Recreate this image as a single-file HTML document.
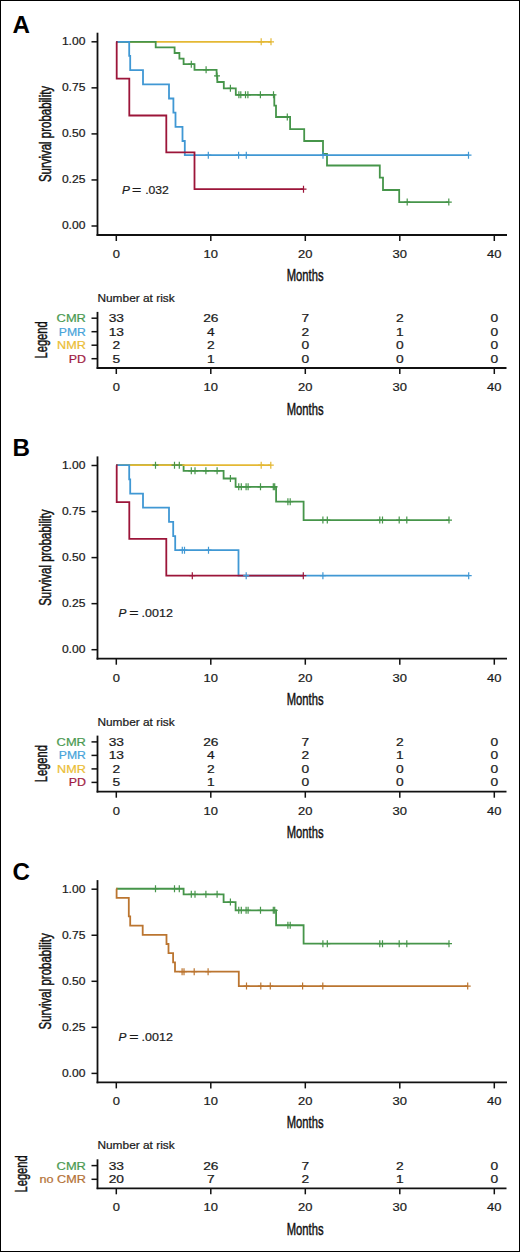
<!DOCTYPE html>
<html><head><meta charset="utf-8"><title>Kaplan-Meier survival curves</title>
<style>
html,body{margin:0;padding:0;background:#fff;}
.fig{position:relative;width:520px;height:1252px;box-sizing:border-box;border:1px solid #000;background:#fff;}
svg{position:absolute;left:-1px;top:-1px;}
text{font-family:"Liberation Sans", sans-serif;}
</style></head><body>
<div class="fig">
<svg width="520" height="1252" viewBox="0 0 520 1252" font-family='"Liberation Sans", sans-serif'>
<text transform="translate(12.50,32.50) scale(1.030,1)" font-size="23.5" text-anchor="start" font-weight="bold" font-style="normal" fill="#000">A</text>
<line x1="97.50" y1="32.70" x2="97.50" y2="235.90" stroke="#111" stroke-width="1.8"/>
<line x1="96.60" y1="235.00" x2="507.00" y2="235.00" stroke="#111" stroke-width="1.8"/>
<line x1="91.50" y1="41.80" x2="97.50" y2="41.80" stroke="#111" stroke-width="1.5"/>
<text transform="translate(85.40,45.10) scale(1.080,1)" font-size="11.2" text-anchor="end" font-weight="normal" font-style="normal" fill="#1a1a1a" stroke="#1a1a1a" stroke-width="0.22">1.00</text>
<line x1="91.50" y1="87.85" x2="97.50" y2="87.85" stroke="#111" stroke-width="1.5"/>
<text transform="translate(85.40,91.15) scale(1.080,1)" font-size="11.2" text-anchor="end" font-weight="normal" font-style="normal" fill="#1a1a1a" stroke="#1a1a1a" stroke-width="0.22">0.75</text>
<line x1="91.50" y1="133.90" x2="97.50" y2="133.90" stroke="#111" stroke-width="1.5"/>
<text transform="translate(85.40,137.20) scale(1.080,1)" font-size="11.2" text-anchor="end" font-weight="normal" font-style="normal" fill="#1a1a1a" stroke="#1a1a1a" stroke-width="0.22">0.50</text>
<line x1="91.50" y1="179.95" x2="97.50" y2="179.95" stroke="#111" stroke-width="1.5"/>
<text transform="translate(85.40,183.25) scale(1.080,1)" font-size="11.2" text-anchor="end" font-weight="normal" font-style="normal" fill="#1a1a1a" stroke="#1a1a1a" stroke-width="0.22">0.25</text>
<line x1="91.50" y1="226.00" x2="97.50" y2="226.00" stroke="#111" stroke-width="1.5"/>
<text transform="translate(85.40,229.30) scale(1.080,1)" font-size="11.2" text-anchor="end" font-weight="normal" font-style="normal" fill="#1a1a1a" stroke="#1a1a1a" stroke-width="0.22">0.00</text>
<line x1="116.30" y1="235.00" x2="116.30" y2="241.00" stroke="#111" stroke-width="1.5"/>
<text transform="translate(116.30,258.00) scale(1.150,1)" font-size="11.3" text-anchor="middle" font-weight="normal" font-style="normal" fill="#1a1a1a" stroke="#1a1a1a" stroke-width="0.22">0</text>
<line x1="210.80" y1="235.00" x2="210.80" y2="241.00" stroke="#111" stroke-width="1.5"/>
<text transform="translate(210.80,258.00) scale(1.150,1)" font-size="11.3" text-anchor="middle" font-weight="normal" font-style="normal" fill="#1a1a1a" stroke="#1a1a1a" stroke-width="0.22">10</text>
<line x1="305.30" y1="235.00" x2="305.30" y2="241.00" stroke="#111" stroke-width="1.5"/>
<text transform="translate(305.30,258.00) scale(1.150,1)" font-size="11.3" text-anchor="middle" font-weight="normal" font-style="normal" fill="#1a1a1a" stroke="#1a1a1a" stroke-width="0.22">20</text>
<line x1="399.80" y1="235.00" x2="399.80" y2="241.00" stroke="#111" stroke-width="1.5"/>
<text transform="translate(399.80,258.00) scale(1.150,1)" font-size="11.3" text-anchor="middle" font-weight="normal" font-style="normal" fill="#1a1a1a" stroke="#1a1a1a" stroke-width="0.22">30</text>
<line x1="494.30" y1="235.00" x2="494.30" y2="241.00" stroke="#111" stroke-width="1.5"/>
<text transform="translate(494.30,258.00) scale(1.150,1)" font-size="11.3" text-anchor="middle" font-weight="normal" font-style="normal" fill="#1a1a1a" stroke="#1a1a1a" stroke-width="0.22">40</text>
<text transform="translate(305.10,281.00) scale(0.672,1)" font-size="16.7" text-anchor="middle" font-weight="normal" font-style="normal" fill="#111" stroke="#111" stroke-width="0.45">Months</text>
<text transform="translate(50.80,134.00) rotate(-90) scale(0.687,1)" font-size="16.7" text-anchor="middle" font-weight="normal" font-style="normal" fill="#111" stroke="#111" stroke-width="0.45">Survival probability</text>
<path d="M116.30,41.80 L271.00,41.80" fill="none" stroke="#e4b834" stroke-width="1.8" stroke-linejoin="miter" stroke-linecap="butt"/>
<path d="M116.30,41.80 L155.70,41.80 L155.70,47.40 L174.60,47.40 L174.60,53.00 L179.40,53.00 L179.40,58.60 L183.60,58.60 L183.60,64.20 L194.50,64.20 L194.50,69.80 L216.60,69.80 L216.60,75.90 L217.30,75.90 L217.30,82.00 L223.80,82.00 L223.80,88.30 L235.80,88.30 L235.80,94.80 L274.30,94.80 L274.30,105.60 L276.00,105.60 L276.00,117.00 L290.10,117.00 L290.10,129.10 L304.20,129.10 L304.20,141.00 L323.00,141.00 L323.00,153.80 L327.00,153.80 L327.00,165.50 L379.80,165.50 L379.80,177.60 L383.00,177.60 L383.00,190.00 L399.20,190.00 L399.20,202.10 L448.80,202.10" fill="none" stroke="#46954a" stroke-width="1.8" stroke-linejoin="miter" stroke-linecap="butt"/>
<path d="M116.30,41.80 L129.20,41.80 L129.20,55.97 L130.20,55.97 L130.20,70.14 L143.00,70.14 L143.00,84.31 L169.00,84.31 L169.00,98.48 L173.40,98.48 L173.40,112.65 L175.50,112.65 L175.50,126.82 L182.50,126.82 L182.50,140.98 L184.80,140.98 L184.80,155.15 L468.50,155.15" fill="none" stroke="#4098d4" stroke-width="1.8" stroke-linejoin="miter" stroke-linecap="butt"/>
<path d="M116.30,41.80 L116.70,41.80 L116.70,78.64 L129.30,78.64 L129.30,115.48 L166.30,115.48 L166.30,152.32 L194.50,152.32 L194.50,189.16 L303.50,189.16" fill="none" stroke="#9c1539" stroke-width="1.8" stroke-linejoin="miter" stroke-linecap="butt"/>
<path d="M261.20,38.30 V45.30 M258.20,41.80 H264.20" stroke="#e4b834" stroke-width="1.2" fill="none"/>
<path d="M271.00,38.30 V45.30 M268.00,41.80 H274.00" stroke="#e4b834" stroke-width="1.2" fill="none"/>
<path d="M191.30,60.70 V67.70 M188.30,64.20 H194.30" stroke="#46954a" stroke-width="1.2" fill="none"/>
<path d="M206.10,66.30 V73.30 M203.10,69.80 H209.10" stroke="#46954a" stroke-width="1.2" fill="none"/>
<path d="M217.00,72.40 V79.40 M214.00,75.90 H220.00" stroke="#46954a" stroke-width="1.2" fill="none"/>
<path d="M230.40,84.80 V91.80 M227.40,88.30 H233.40" stroke="#46954a" stroke-width="1.2" fill="none"/>
<path d="M238.90,91.30 V98.30 M235.90,94.80 H241.90" stroke="#46954a" stroke-width="1.2" fill="none"/>
<path d="M240.80,91.30 V98.30 M237.80,94.80 H243.80" stroke="#46954a" stroke-width="1.2" fill="none"/>
<path d="M245.50,91.30 V98.30 M242.50,94.80 H248.50" stroke="#46954a" stroke-width="1.2" fill="none"/>
<path d="M247.90,91.30 V98.30 M244.90,94.80 H250.90" stroke="#46954a" stroke-width="1.2" fill="none"/>
<path d="M260.40,91.30 V98.30 M257.40,94.80 H263.40" stroke="#46954a" stroke-width="1.2" fill="none"/>
<path d="M273.50,91.30 V98.30 M270.50,94.80 H276.50" stroke="#46954a" stroke-width="1.2" fill="none"/>
<path d="M287.30,113.50 V120.50 M284.30,117.00 H290.30" stroke="#46954a" stroke-width="1.2" fill="none"/>
<path d="M407.20,198.60 V205.60 M404.20,202.10 H410.20" stroke="#46954a" stroke-width="1.2" fill="none"/>
<path d="M448.80,198.60 V205.60 M445.80,202.10 H451.80" stroke="#46954a" stroke-width="1.2" fill="none"/>
<path d="M208.30,151.65 V158.65 M205.30,155.15 H211.30" stroke="#4098d4" stroke-width="1.2" fill="none"/>
<path d="M238.60,151.65 V158.65 M235.60,155.15 H241.60" stroke="#4098d4" stroke-width="1.2" fill="none"/>
<path d="M246.30,151.65 V158.65 M243.30,155.15 H249.30" stroke="#4098d4" stroke-width="1.2" fill="none"/>
<path d="M323.00,151.65 V158.65 M320.00,155.15 H326.00" stroke="#4098d4" stroke-width="1.2" fill="none"/>
<path d="M468.50,151.65 V158.65 M465.50,155.15 H471.50" stroke="#4098d4" stroke-width="1.2" fill="none"/>
<path d="M303.50,185.66 V192.66 M300.50,189.16 H306.50" stroke="#9c1539" stroke-width="1.2" fill="none"/>
<text transform="translate(121.90,193.60)" font-size="11.8" text-anchor="start" font-weight="normal" font-style="italic" fill="#1a1a1a" stroke="#1a1a1a" stroke-width="0.22">P</text>
<text transform="translate(131.90,193.60) scale(1.350,1)" font-size="11.8" text-anchor="start" font-weight="normal" font-style="normal" fill="#1a1a1a" stroke="#1a1a1a" stroke-width="0.22">=</text>
<text transform="translate(145.20,193.60) scale(1.030,1)" font-size="11.8" text-anchor="start" font-weight="normal" font-style="normal" fill="#1a1a1a" stroke="#1a1a1a" stroke-width="0.22">.032</text>
<text transform="translate(97.40,301.80) scale(1.045,1)" font-size="11.4" text-anchor="start" font-weight="normal" font-style="normal" fill="#1a1a1a" stroke="#1a1a1a" stroke-width="0.22">Number at risk</text>
<line x1="97.50" y1="311.90" x2="97.50" y2="368.85" stroke="#111" stroke-width="1.8"/>
<line x1="96.65" y1="368.00" x2="506.50" y2="368.00" stroke="#111" stroke-width="1.8"/>
<line x1="91.50" y1="318.20" x2="97.50" y2="318.20" stroke="#111" stroke-width="1.5"/>
<text transform="translate(85.90,322.20) scale(1.120,1)" font-size="11.5" text-anchor="end" font-weight="normal" font-style="normal" fill="#4a9a50" stroke="#4a9a50" stroke-width="0.22">CMR</text>
<text transform="translate(116.30,322.20) scale(1.200,1)" font-size="11.5" text-anchor="middle" font-weight="normal" font-style="normal" fill="#1a1a1a" stroke="#1a1a1a" stroke-width="0.22">33</text>
<text transform="translate(210.80,322.20) scale(1.200,1)" font-size="11.5" text-anchor="middle" font-weight="normal" font-style="normal" fill="#1a1a1a" stroke="#1a1a1a" stroke-width="0.22">26</text>
<text transform="translate(305.30,322.20) scale(1.200,1)" font-size="11.5" text-anchor="middle" font-weight="normal" font-style="normal" fill="#1a1a1a" stroke="#1a1a1a" stroke-width="0.22">7</text>
<text transform="translate(399.80,322.20) scale(1.200,1)" font-size="11.5" text-anchor="middle" font-weight="normal" font-style="normal" fill="#1a1a1a" stroke="#1a1a1a" stroke-width="0.22">2</text>
<text transform="translate(494.30,322.20) scale(1.200,1)" font-size="11.5" text-anchor="middle" font-weight="normal" font-style="normal" fill="#1a1a1a" stroke="#1a1a1a" stroke-width="0.22">0</text>
<line x1="91.50" y1="331.70" x2="97.50" y2="331.70" stroke="#111" stroke-width="1.5"/>
<text transform="translate(85.90,335.70) scale(1.060,1)" font-size="11.5" text-anchor="end" font-weight="normal" font-style="normal" fill="#48a4da" stroke="#48a4da" stroke-width="0.22">PMR</text>
<text transform="translate(116.30,335.70) scale(1.200,1)" font-size="11.5" text-anchor="middle" font-weight="normal" font-style="normal" fill="#1a1a1a" stroke="#1a1a1a" stroke-width="0.22">13</text>
<text transform="translate(210.80,335.70) scale(1.200,1)" font-size="11.5" text-anchor="middle" font-weight="normal" font-style="normal" fill="#1a1a1a" stroke="#1a1a1a" stroke-width="0.22">4</text>
<text transform="translate(305.30,335.70) scale(1.200,1)" font-size="11.5" text-anchor="middle" font-weight="normal" font-style="normal" fill="#1a1a1a" stroke="#1a1a1a" stroke-width="0.22">2</text>
<text transform="translate(399.80,335.70) scale(1.200,1)" font-size="11.5" text-anchor="middle" font-weight="normal" font-style="normal" fill="#1a1a1a" stroke="#1a1a1a" stroke-width="0.22">1</text>
<text transform="translate(494.30,335.70) scale(1.200,1)" font-size="11.5" text-anchor="middle" font-weight="normal" font-style="normal" fill="#1a1a1a" stroke="#1a1a1a" stroke-width="0.22">0</text>
<line x1="91.50" y1="345.20" x2="97.50" y2="345.20" stroke="#111" stroke-width="1.5"/>
<text transform="translate(85.90,349.20) scale(1.100,1)" font-size="11.5" text-anchor="end" font-weight="normal" font-style="normal" fill="#ebbe36" stroke="#ebbe36" stroke-width="0.22">NMR</text>
<text transform="translate(116.30,349.20) scale(1.200,1)" font-size="11.5" text-anchor="middle" font-weight="normal" font-style="normal" fill="#1a1a1a" stroke="#1a1a1a" stroke-width="0.22">2</text>
<text transform="translate(210.80,349.20) scale(1.200,1)" font-size="11.5" text-anchor="middle" font-weight="normal" font-style="normal" fill="#1a1a1a" stroke="#1a1a1a" stroke-width="0.22">2</text>
<text transform="translate(305.30,349.20) scale(1.200,1)" font-size="11.5" text-anchor="middle" font-weight="normal" font-style="normal" fill="#1a1a1a" stroke="#1a1a1a" stroke-width="0.22">0</text>
<text transform="translate(399.80,349.20) scale(1.200,1)" font-size="11.5" text-anchor="middle" font-weight="normal" font-style="normal" fill="#1a1a1a" stroke="#1a1a1a" stroke-width="0.22">0</text>
<text transform="translate(494.30,349.20) scale(1.200,1)" font-size="11.5" text-anchor="middle" font-weight="normal" font-style="normal" fill="#1a1a1a" stroke="#1a1a1a" stroke-width="0.22">0</text>
<line x1="91.50" y1="358.70" x2="97.50" y2="358.70" stroke="#111" stroke-width="1.5"/>
<text transform="translate(85.90,362.70) scale(1.080,1)" font-size="11.5" text-anchor="end" font-weight="normal" font-style="normal" fill="#a01a42" stroke="#a01a42" stroke-width="0.22">PD</text>
<text transform="translate(116.30,362.70) scale(1.200,1)" font-size="11.5" text-anchor="middle" font-weight="normal" font-style="normal" fill="#1a1a1a" stroke="#1a1a1a" stroke-width="0.22">5</text>
<text transform="translate(210.80,362.70) scale(1.200,1)" font-size="11.5" text-anchor="middle" font-weight="normal" font-style="normal" fill="#1a1a1a" stroke="#1a1a1a" stroke-width="0.22">1</text>
<text transform="translate(305.30,362.70) scale(1.200,1)" font-size="11.5" text-anchor="middle" font-weight="normal" font-style="normal" fill="#1a1a1a" stroke="#1a1a1a" stroke-width="0.22">0</text>
<text transform="translate(399.80,362.70) scale(1.200,1)" font-size="11.5" text-anchor="middle" font-weight="normal" font-style="normal" fill="#1a1a1a" stroke="#1a1a1a" stroke-width="0.22">0</text>
<text transform="translate(494.30,362.70) scale(1.200,1)" font-size="11.5" text-anchor="middle" font-weight="normal" font-style="normal" fill="#1a1a1a" stroke="#1a1a1a" stroke-width="0.22">0</text>
<line x1="116.30" y1="368.00" x2="116.30" y2="374.00" stroke="#111" stroke-width="1.5"/>
<text transform="translate(116.30,391.00) scale(1.150,1)" font-size="11.3" text-anchor="middle" font-weight="normal" font-style="normal" fill="#1a1a1a" stroke="#1a1a1a" stroke-width="0.22">0</text>
<line x1="210.80" y1="368.00" x2="210.80" y2="374.00" stroke="#111" stroke-width="1.5"/>
<text transform="translate(210.80,391.00) scale(1.150,1)" font-size="11.3" text-anchor="middle" font-weight="normal" font-style="normal" fill="#1a1a1a" stroke="#1a1a1a" stroke-width="0.22">10</text>
<line x1="305.30" y1="368.00" x2="305.30" y2="374.00" stroke="#111" stroke-width="1.5"/>
<text transform="translate(305.30,391.00) scale(1.150,1)" font-size="11.3" text-anchor="middle" font-weight="normal" font-style="normal" fill="#1a1a1a" stroke="#1a1a1a" stroke-width="0.22">20</text>
<line x1="399.80" y1="368.00" x2="399.80" y2="374.00" stroke="#111" stroke-width="1.5"/>
<text transform="translate(399.80,391.00) scale(1.150,1)" font-size="11.3" text-anchor="middle" font-weight="normal" font-style="normal" fill="#1a1a1a" stroke="#1a1a1a" stroke-width="0.22">30</text>
<line x1="494.30" y1="368.00" x2="494.30" y2="374.00" stroke="#111" stroke-width="1.5"/>
<text transform="translate(494.30,391.00) scale(1.150,1)" font-size="11.3" text-anchor="middle" font-weight="normal" font-style="normal" fill="#1a1a1a" stroke="#1a1a1a" stroke-width="0.22">40</text>
<text transform="translate(305.10,414.50) scale(0.672,1)" font-size="16.7" text-anchor="middle" font-weight="normal" font-style="normal" fill="#111" stroke="#111" stroke-width="0.45">Months</text>
<text transform="translate(47.20,339.95) rotate(-90) scale(0.665,1)" font-size="16.7" text-anchor="middle" font-weight="normal" font-style="normal" fill="#111" stroke="#111" stroke-width="0.45">Legend</text>
<text transform="translate(12.50,456.20) scale(1.030,1)" font-size="23.5" text-anchor="start" font-weight="bold" font-style="normal" fill="#000">B</text>
<line x1="97.50" y1="456.40" x2="97.50" y2="659.60" stroke="#111" stroke-width="1.8"/>
<line x1="96.60" y1="658.70" x2="507.00" y2="658.70" stroke="#111" stroke-width="1.8"/>
<line x1="91.50" y1="465.50" x2="97.50" y2="465.50" stroke="#111" stroke-width="1.5"/>
<text transform="translate(85.40,468.80) scale(1.080,1)" font-size="11.2" text-anchor="end" font-weight="normal" font-style="normal" fill="#1a1a1a" stroke="#1a1a1a" stroke-width="0.22">1.00</text>
<line x1="91.50" y1="511.55" x2="97.50" y2="511.55" stroke="#111" stroke-width="1.5"/>
<text transform="translate(85.40,514.85) scale(1.080,1)" font-size="11.2" text-anchor="end" font-weight="normal" font-style="normal" fill="#1a1a1a" stroke="#1a1a1a" stroke-width="0.22">0.75</text>
<line x1="91.50" y1="557.60" x2="97.50" y2="557.60" stroke="#111" stroke-width="1.5"/>
<text transform="translate(85.40,560.90) scale(1.080,1)" font-size="11.2" text-anchor="end" font-weight="normal" font-style="normal" fill="#1a1a1a" stroke="#1a1a1a" stroke-width="0.22">0.50</text>
<line x1="91.50" y1="603.65" x2="97.50" y2="603.65" stroke="#111" stroke-width="1.5"/>
<text transform="translate(85.40,606.95) scale(1.080,1)" font-size="11.2" text-anchor="end" font-weight="normal" font-style="normal" fill="#1a1a1a" stroke="#1a1a1a" stroke-width="0.22">0.25</text>
<line x1="91.50" y1="649.70" x2="97.50" y2="649.70" stroke="#111" stroke-width="1.5"/>
<text transform="translate(85.40,653.00) scale(1.080,1)" font-size="11.2" text-anchor="end" font-weight="normal" font-style="normal" fill="#1a1a1a" stroke="#1a1a1a" stroke-width="0.22">0.00</text>
<line x1="116.30" y1="658.70" x2="116.30" y2="664.70" stroke="#111" stroke-width="1.5"/>
<text transform="translate(116.30,681.70) scale(1.150,1)" font-size="11.3" text-anchor="middle" font-weight="normal" font-style="normal" fill="#1a1a1a" stroke="#1a1a1a" stroke-width="0.22">0</text>
<line x1="210.80" y1="658.70" x2="210.80" y2="664.70" stroke="#111" stroke-width="1.5"/>
<text transform="translate(210.80,681.70) scale(1.150,1)" font-size="11.3" text-anchor="middle" font-weight="normal" font-style="normal" fill="#1a1a1a" stroke="#1a1a1a" stroke-width="0.22">10</text>
<line x1="305.30" y1="658.70" x2="305.30" y2="664.70" stroke="#111" stroke-width="1.5"/>
<text transform="translate(305.30,681.70) scale(1.150,1)" font-size="11.3" text-anchor="middle" font-weight="normal" font-style="normal" fill="#1a1a1a" stroke="#1a1a1a" stroke-width="0.22">20</text>
<line x1="399.80" y1="658.70" x2="399.80" y2="664.70" stroke="#111" stroke-width="1.5"/>
<text transform="translate(399.80,681.70) scale(1.150,1)" font-size="11.3" text-anchor="middle" font-weight="normal" font-style="normal" fill="#1a1a1a" stroke="#1a1a1a" stroke-width="0.22">30</text>
<line x1="494.30" y1="658.70" x2="494.30" y2="664.70" stroke="#111" stroke-width="1.5"/>
<text transform="translate(494.30,681.70) scale(1.150,1)" font-size="11.3" text-anchor="middle" font-weight="normal" font-style="normal" fill="#1a1a1a" stroke="#1a1a1a" stroke-width="0.22">40</text>
<text transform="translate(305.10,704.70) scale(0.672,1)" font-size="16.7" text-anchor="middle" font-weight="normal" font-style="normal" fill="#111" stroke="#111" stroke-width="0.45">Months</text>
<text transform="translate(50.80,557.70) rotate(-90) scale(0.687,1)" font-size="16.7" text-anchor="middle" font-weight="normal" font-style="normal" fill="#111" stroke="#111" stroke-width="0.45">Survival probability</text>
<path d="M116.30,465.20 L183.60,465.20 L183.60,470.80 L223.60,470.80 L223.60,478.50 L235.60,478.50 L235.60,486.80 L276.10,486.80 L276.10,501.70 L303.60,501.70 L303.60,520.10 L449.00,520.10" fill="none" stroke="#46954a" stroke-width="1.8" stroke-linejoin="miter" stroke-linecap="butt"/>
<path d="M116.30,465.20 L270.80,465.20" fill="none" stroke="#e4b834" stroke-width="1.8" stroke-linejoin="miter" stroke-linecap="butt"/>
<path d="M116.30,465.20 L129.20,465.20 L129.20,479.37 L130.20,479.37 L130.20,493.54 L143.00,493.54 L143.00,507.71 L169.00,507.71 L169.00,521.88 L173.20,521.88 L173.20,536.05 L175.20,536.05 L175.20,550.22 L238.50,550.22 L238.50,575.72 L468.70,575.72" fill="none" stroke="#4098d4" stroke-width="1.8" stroke-linejoin="miter" stroke-linecap="butt"/>
<path d="M116.30,465.20 L116.70,465.20 L116.70,502.04 L129.30,502.04 L129.30,538.88 L166.30,538.88 L166.30,575.72 L303.50,575.72" fill="none" stroke="#9c1539" stroke-width="1.8" stroke-linejoin="miter" stroke-linecap="butt"/>
<path d="M155.50,461.70 V468.70 M152.50,465.20 H158.50" stroke="#46954a" stroke-width="1.2" fill="none"/>
<path d="M174.50,461.70 V468.70 M171.50,465.20 H177.50" stroke="#46954a" stroke-width="1.2" fill="none"/>
<path d="M179.30,461.70 V468.70 M176.30,465.20 H182.30" stroke="#46954a" stroke-width="1.2" fill="none"/>
<path d="M191.30,467.30 V474.30 M188.30,470.80 H194.30" stroke="#46954a" stroke-width="1.2" fill="none"/>
<path d="M195.00,467.30 V474.30 M192.00,470.80 H198.00" stroke="#46954a" stroke-width="1.2" fill="none"/>
<path d="M205.90,467.30 V474.30 M202.90,470.80 H208.90" stroke="#46954a" stroke-width="1.2" fill="none"/>
<path d="M217.10,467.30 V474.30 M214.10,470.80 H220.10" stroke="#46954a" stroke-width="1.2" fill="none"/>
<path d="M230.40,475.00 V482.00 M227.40,478.50 H233.40" stroke="#46954a" stroke-width="1.2" fill="none"/>
<path d="M238.75,483.30 V490.30 M235.75,486.80 H241.75" stroke="#46954a" stroke-width="1.2" fill="none"/>
<path d="M241.30,483.30 V490.30 M238.30,486.80 H244.30" stroke="#46954a" stroke-width="1.2" fill="none"/>
<path d="M246.10,483.30 V490.30 M243.10,486.80 H249.10" stroke="#46954a" stroke-width="1.2" fill="none"/>
<path d="M248.10,483.30 V490.30 M245.10,486.80 H251.10" stroke="#46954a" stroke-width="1.2" fill="none"/>
<path d="M260.50,483.30 V490.30 M257.50,486.80 H263.50" stroke="#46954a" stroke-width="1.2" fill="none"/>
<path d="M273.30,483.30 V490.30 M270.30,486.80 H276.30" stroke="#46954a" stroke-width="1.2" fill="none"/>
<path d="M274.70,483.30 V490.30 M271.70,486.80 H277.70" stroke="#46954a" stroke-width="1.2" fill="none"/>
<path d="M287.90,498.20 V505.20 M284.90,501.70 H290.90" stroke="#46954a" stroke-width="1.2" fill="none"/>
<path d="M290.20,498.20 V505.20 M287.20,501.70 H293.20" stroke="#46954a" stroke-width="1.2" fill="none"/>
<path d="M322.90,516.60 V523.60 M319.90,520.10 H325.90" stroke="#46954a" stroke-width="1.2" fill="none"/>
<path d="M327.30,516.60 V523.60 M324.30,520.10 H330.30" stroke="#46954a" stroke-width="1.2" fill="none"/>
<path d="M379.80,516.60 V523.60 M376.80,520.10 H382.80" stroke="#46954a" stroke-width="1.2" fill="none"/>
<path d="M382.50,516.60 V523.60 M379.50,520.10 H385.50" stroke="#46954a" stroke-width="1.2" fill="none"/>
<path d="M399.20,516.60 V523.60 M396.20,520.10 H402.20" stroke="#46954a" stroke-width="1.2" fill="none"/>
<path d="M406.80,516.60 V523.60 M403.80,520.10 H409.80" stroke="#46954a" stroke-width="1.2" fill="none"/>
<path d="M449.00,516.60 V523.60 M446.00,520.10 H452.00" stroke="#46954a" stroke-width="1.2" fill="none"/>
<path d="M261.20,461.70 V468.70 M258.20,465.20 H264.20" stroke="#e4b834" stroke-width="1.2" fill="none"/>
<path d="M270.80,461.70 V468.70 M267.80,465.20 H273.80" stroke="#e4b834" stroke-width="1.2" fill="none"/>
<path d="M182.30,546.72 V553.72 M179.30,550.22 H185.30" stroke="#4098d4" stroke-width="1.2" fill="none"/>
<path d="M184.50,546.72 V553.72 M181.50,550.22 H187.50" stroke="#4098d4" stroke-width="1.2" fill="none"/>
<path d="M208.50,546.72 V553.72 M205.50,550.22 H211.50" stroke="#4098d4" stroke-width="1.2" fill="none"/>
<path d="M246.20,572.22 V579.22 M243.20,575.72 H249.20" stroke="#4098d4" stroke-width="1.2" fill="none"/>
<path d="M322.90,572.22 V579.22 M319.90,575.72 H325.90" stroke="#4098d4" stroke-width="1.2" fill="none"/>
<path d="M468.70,572.22 V579.22 M465.70,575.72 H471.70" stroke="#4098d4" stroke-width="1.2" fill="none"/>
<path d="M192.30,572.22 V579.22 M189.30,575.72 H195.30" stroke="#9c1539" stroke-width="1.2" fill="none"/>
<path d="M303.30,572.22 V579.22 M300.30,575.72 H306.30" stroke="#9c1539" stroke-width="1.2" fill="none"/>
<text transform="translate(118.60,617.30)" font-size="11.8" text-anchor="start" font-weight="normal" font-style="italic" fill="#1a1a1a" stroke="#1a1a1a" stroke-width="0.22">P</text>
<text transform="translate(129.30,617.30) scale(1.350,1)" font-size="11.8" text-anchor="start" font-weight="normal" font-style="normal" fill="#1a1a1a" stroke="#1a1a1a" stroke-width="0.22">=</text>
<text transform="translate(141.60,617.30) scale(1.060,1)" font-size="11.8" text-anchor="start" font-weight="normal" font-style="normal" fill="#1a1a1a" stroke="#1a1a1a" stroke-width="0.22">.0012</text>
<text transform="translate(97.40,725.50) scale(1.045,1)" font-size="11.4" text-anchor="start" font-weight="normal" font-style="normal" fill="#1a1a1a" stroke="#1a1a1a" stroke-width="0.22">Number at risk</text>
<line x1="97.50" y1="735.60" x2="97.50" y2="792.55" stroke="#111" stroke-width="1.8"/>
<line x1="96.65" y1="791.70" x2="506.50" y2="791.70" stroke="#111" stroke-width="1.8"/>
<line x1="91.50" y1="741.90" x2="97.50" y2="741.90" stroke="#111" stroke-width="1.5"/>
<text transform="translate(85.90,745.90) scale(1.120,1)" font-size="11.5" text-anchor="end" font-weight="normal" font-style="normal" fill="#4a9a50" stroke="#4a9a50" stroke-width="0.22">CMR</text>
<text transform="translate(116.30,745.90) scale(1.200,1)" font-size="11.5" text-anchor="middle" font-weight="normal" font-style="normal" fill="#1a1a1a" stroke="#1a1a1a" stroke-width="0.22">33</text>
<text transform="translate(210.80,745.90) scale(1.200,1)" font-size="11.5" text-anchor="middle" font-weight="normal" font-style="normal" fill="#1a1a1a" stroke="#1a1a1a" stroke-width="0.22">26</text>
<text transform="translate(305.30,745.90) scale(1.200,1)" font-size="11.5" text-anchor="middle" font-weight="normal" font-style="normal" fill="#1a1a1a" stroke="#1a1a1a" stroke-width="0.22">7</text>
<text transform="translate(399.80,745.90) scale(1.200,1)" font-size="11.5" text-anchor="middle" font-weight="normal" font-style="normal" fill="#1a1a1a" stroke="#1a1a1a" stroke-width="0.22">2</text>
<text transform="translate(494.30,745.90) scale(1.200,1)" font-size="11.5" text-anchor="middle" font-weight="normal" font-style="normal" fill="#1a1a1a" stroke="#1a1a1a" stroke-width="0.22">0</text>
<line x1="91.50" y1="755.40" x2="97.50" y2="755.40" stroke="#111" stroke-width="1.5"/>
<text transform="translate(85.90,759.40) scale(1.060,1)" font-size="11.5" text-anchor="end" font-weight="normal" font-style="normal" fill="#48a4da" stroke="#48a4da" stroke-width="0.22">PMR</text>
<text transform="translate(116.30,759.40) scale(1.200,1)" font-size="11.5" text-anchor="middle" font-weight="normal" font-style="normal" fill="#1a1a1a" stroke="#1a1a1a" stroke-width="0.22">13</text>
<text transform="translate(210.80,759.40) scale(1.200,1)" font-size="11.5" text-anchor="middle" font-weight="normal" font-style="normal" fill="#1a1a1a" stroke="#1a1a1a" stroke-width="0.22">4</text>
<text transform="translate(305.30,759.40) scale(1.200,1)" font-size="11.5" text-anchor="middle" font-weight="normal" font-style="normal" fill="#1a1a1a" stroke="#1a1a1a" stroke-width="0.22">2</text>
<text transform="translate(399.80,759.40) scale(1.200,1)" font-size="11.5" text-anchor="middle" font-weight="normal" font-style="normal" fill="#1a1a1a" stroke="#1a1a1a" stroke-width="0.22">1</text>
<text transform="translate(494.30,759.40) scale(1.200,1)" font-size="11.5" text-anchor="middle" font-weight="normal" font-style="normal" fill="#1a1a1a" stroke="#1a1a1a" stroke-width="0.22">0</text>
<line x1="91.50" y1="768.90" x2="97.50" y2="768.90" stroke="#111" stroke-width="1.5"/>
<text transform="translate(85.90,772.90) scale(1.100,1)" font-size="11.5" text-anchor="end" font-weight="normal" font-style="normal" fill="#ebbe36" stroke="#ebbe36" stroke-width="0.22">NMR</text>
<text transform="translate(116.30,772.90) scale(1.200,1)" font-size="11.5" text-anchor="middle" font-weight="normal" font-style="normal" fill="#1a1a1a" stroke="#1a1a1a" stroke-width="0.22">2</text>
<text transform="translate(210.80,772.90) scale(1.200,1)" font-size="11.5" text-anchor="middle" font-weight="normal" font-style="normal" fill="#1a1a1a" stroke="#1a1a1a" stroke-width="0.22">2</text>
<text transform="translate(305.30,772.90) scale(1.200,1)" font-size="11.5" text-anchor="middle" font-weight="normal" font-style="normal" fill="#1a1a1a" stroke="#1a1a1a" stroke-width="0.22">0</text>
<text transform="translate(399.80,772.90) scale(1.200,1)" font-size="11.5" text-anchor="middle" font-weight="normal" font-style="normal" fill="#1a1a1a" stroke="#1a1a1a" stroke-width="0.22">0</text>
<text transform="translate(494.30,772.90) scale(1.200,1)" font-size="11.5" text-anchor="middle" font-weight="normal" font-style="normal" fill="#1a1a1a" stroke="#1a1a1a" stroke-width="0.22">0</text>
<line x1="91.50" y1="782.40" x2="97.50" y2="782.40" stroke="#111" stroke-width="1.5"/>
<text transform="translate(85.90,786.40) scale(1.080,1)" font-size="11.5" text-anchor="end" font-weight="normal" font-style="normal" fill="#a01a42" stroke="#a01a42" stroke-width="0.22">PD</text>
<text transform="translate(116.30,786.40) scale(1.200,1)" font-size="11.5" text-anchor="middle" font-weight="normal" font-style="normal" fill="#1a1a1a" stroke="#1a1a1a" stroke-width="0.22">5</text>
<text transform="translate(210.80,786.40) scale(1.200,1)" font-size="11.5" text-anchor="middle" font-weight="normal" font-style="normal" fill="#1a1a1a" stroke="#1a1a1a" stroke-width="0.22">1</text>
<text transform="translate(305.30,786.40) scale(1.200,1)" font-size="11.5" text-anchor="middle" font-weight="normal" font-style="normal" fill="#1a1a1a" stroke="#1a1a1a" stroke-width="0.22">0</text>
<text transform="translate(399.80,786.40) scale(1.200,1)" font-size="11.5" text-anchor="middle" font-weight="normal" font-style="normal" fill="#1a1a1a" stroke="#1a1a1a" stroke-width="0.22">0</text>
<text transform="translate(494.30,786.40) scale(1.200,1)" font-size="11.5" text-anchor="middle" font-weight="normal" font-style="normal" fill="#1a1a1a" stroke="#1a1a1a" stroke-width="0.22">0</text>
<line x1="116.30" y1="791.70" x2="116.30" y2="797.70" stroke="#111" stroke-width="1.5"/>
<text transform="translate(116.30,814.70) scale(1.150,1)" font-size="11.3" text-anchor="middle" font-weight="normal" font-style="normal" fill="#1a1a1a" stroke="#1a1a1a" stroke-width="0.22">0</text>
<line x1="210.80" y1="791.70" x2="210.80" y2="797.70" stroke="#111" stroke-width="1.5"/>
<text transform="translate(210.80,814.70) scale(1.150,1)" font-size="11.3" text-anchor="middle" font-weight="normal" font-style="normal" fill="#1a1a1a" stroke="#1a1a1a" stroke-width="0.22">10</text>
<line x1="305.30" y1="791.70" x2="305.30" y2="797.70" stroke="#111" stroke-width="1.5"/>
<text transform="translate(305.30,814.70) scale(1.150,1)" font-size="11.3" text-anchor="middle" font-weight="normal" font-style="normal" fill="#1a1a1a" stroke="#1a1a1a" stroke-width="0.22">20</text>
<line x1="399.80" y1="791.70" x2="399.80" y2="797.70" stroke="#111" stroke-width="1.5"/>
<text transform="translate(399.80,814.70) scale(1.150,1)" font-size="11.3" text-anchor="middle" font-weight="normal" font-style="normal" fill="#1a1a1a" stroke="#1a1a1a" stroke-width="0.22">30</text>
<line x1="494.30" y1="791.70" x2="494.30" y2="797.70" stroke="#111" stroke-width="1.5"/>
<text transform="translate(494.30,814.70) scale(1.150,1)" font-size="11.3" text-anchor="middle" font-weight="normal" font-style="normal" fill="#1a1a1a" stroke="#1a1a1a" stroke-width="0.22">40</text>
<text transform="translate(305.10,838.20) scale(0.672,1)" font-size="16.7" text-anchor="middle" font-weight="normal" font-style="normal" fill="#111" stroke="#111" stroke-width="0.45">Months</text>
<text transform="translate(47.20,763.65) rotate(-90) scale(0.665,1)" font-size="16.7" text-anchor="middle" font-weight="normal" font-style="normal" fill="#111" stroke="#111" stroke-width="0.45">Legend</text>
<text transform="translate(12.50,879.90) scale(1.030,1)" font-size="23.5" text-anchor="start" font-weight="bold" font-style="normal" fill="#000">C</text>
<line x1="97.50" y1="880.10" x2="97.50" y2="1083.30" stroke="#111" stroke-width="1.8"/>
<line x1="96.60" y1="1082.40" x2="507.00" y2="1082.40" stroke="#111" stroke-width="1.8"/>
<line x1="91.50" y1="889.20" x2="97.50" y2="889.20" stroke="#111" stroke-width="1.5"/>
<text transform="translate(85.40,892.50) scale(1.080,1)" font-size="11.2" text-anchor="end" font-weight="normal" font-style="normal" fill="#1a1a1a" stroke="#1a1a1a" stroke-width="0.22">1.00</text>
<line x1="91.50" y1="935.25" x2="97.50" y2="935.25" stroke="#111" stroke-width="1.5"/>
<text transform="translate(85.40,938.55) scale(1.080,1)" font-size="11.2" text-anchor="end" font-weight="normal" font-style="normal" fill="#1a1a1a" stroke="#1a1a1a" stroke-width="0.22">0.75</text>
<line x1="91.50" y1="981.30" x2="97.50" y2="981.30" stroke="#111" stroke-width="1.5"/>
<text transform="translate(85.40,984.60) scale(1.080,1)" font-size="11.2" text-anchor="end" font-weight="normal" font-style="normal" fill="#1a1a1a" stroke="#1a1a1a" stroke-width="0.22">0.50</text>
<line x1="91.50" y1="1027.35" x2="97.50" y2="1027.35" stroke="#111" stroke-width="1.5"/>
<text transform="translate(85.40,1030.65) scale(1.080,1)" font-size="11.2" text-anchor="end" font-weight="normal" font-style="normal" fill="#1a1a1a" stroke="#1a1a1a" stroke-width="0.22">0.25</text>
<line x1="91.50" y1="1073.40" x2="97.50" y2="1073.40" stroke="#111" stroke-width="1.5"/>
<text transform="translate(85.40,1076.70) scale(1.080,1)" font-size="11.2" text-anchor="end" font-weight="normal" font-style="normal" fill="#1a1a1a" stroke="#1a1a1a" stroke-width="0.22">0.00</text>
<line x1="116.30" y1="1082.40" x2="116.30" y2="1088.40" stroke="#111" stroke-width="1.5"/>
<text transform="translate(116.30,1105.40) scale(1.150,1)" font-size="11.3" text-anchor="middle" font-weight="normal" font-style="normal" fill="#1a1a1a" stroke="#1a1a1a" stroke-width="0.22">0</text>
<line x1="210.80" y1="1082.40" x2="210.80" y2="1088.40" stroke="#111" stroke-width="1.5"/>
<text transform="translate(210.80,1105.40) scale(1.150,1)" font-size="11.3" text-anchor="middle" font-weight="normal" font-style="normal" fill="#1a1a1a" stroke="#1a1a1a" stroke-width="0.22">10</text>
<line x1="305.30" y1="1082.40" x2="305.30" y2="1088.40" stroke="#111" stroke-width="1.5"/>
<text transform="translate(305.30,1105.40) scale(1.150,1)" font-size="11.3" text-anchor="middle" font-weight="normal" font-style="normal" fill="#1a1a1a" stroke="#1a1a1a" stroke-width="0.22">20</text>
<line x1="399.80" y1="1082.40" x2="399.80" y2="1088.40" stroke="#111" stroke-width="1.5"/>
<text transform="translate(399.80,1105.40) scale(1.150,1)" font-size="11.3" text-anchor="middle" font-weight="normal" font-style="normal" fill="#1a1a1a" stroke="#1a1a1a" stroke-width="0.22">30</text>
<line x1="494.30" y1="1082.40" x2="494.30" y2="1088.40" stroke="#111" stroke-width="1.5"/>
<text transform="translate(494.30,1105.40) scale(1.150,1)" font-size="11.3" text-anchor="middle" font-weight="normal" font-style="normal" fill="#1a1a1a" stroke="#1a1a1a" stroke-width="0.22">40</text>
<text transform="translate(305.10,1128.40) scale(0.672,1)" font-size="16.7" text-anchor="middle" font-weight="normal" font-style="normal" fill="#111" stroke="#111" stroke-width="0.45">Months</text>
<text transform="translate(50.80,981.40) rotate(-90) scale(0.687,1)" font-size="16.7" text-anchor="middle" font-weight="normal" font-style="normal" fill="#111" stroke="#111" stroke-width="0.45">Survival probability</text>
<path d="M116.30,888.75 L183.60,888.75 L183.60,894.35 L223.60,894.35 L223.60,902.05 L235.60,902.05 L235.60,910.35 L276.10,910.35 L276.10,925.25 L303.60,925.25 L303.60,943.65 L449.00,943.65" fill="none" stroke="#46954a" stroke-width="1.8" stroke-linejoin="miter" stroke-linecap="butt"/>
<path d="M116.30,888.75 L116.60,888.75 L116.60,897.96 L128.80,897.96 L128.80,916.38 L130.20,916.38 L130.20,925.59 L142.70,925.59 L142.70,934.80 L166.50,934.80 L166.50,944.01 L168.50,944.01 L168.50,953.22 L173.10,953.22 L173.10,962.43 L175.00,962.43 L175.00,971.64 L238.80,971.64 L238.80,986.12 L467.70,986.12" fill="none" stroke="#bb7530" stroke-width="1.8" stroke-linejoin="miter" stroke-linecap="butt"/>
<path d="M155.50,885.25 V892.25 M152.50,888.75 H158.50" stroke="#46954a" stroke-width="1.2" fill="none"/>
<path d="M174.50,885.25 V892.25 M171.50,888.75 H177.50" stroke="#46954a" stroke-width="1.2" fill="none"/>
<path d="M179.30,885.25 V892.25 M176.30,888.75 H182.30" stroke="#46954a" stroke-width="1.2" fill="none"/>
<path d="M191.30,890.85 V897.85 M188.30,894.35 H194.30" stroke="#46954a" stroke-width="1.2" fill="none"/>
<path d="M195.00,890.85 V897.85 M192.00,894.35 H198.00" stroke="#46954a" stroke-width="1.2" fill="none"/>
<path d="M205.90,890.85 V897.85 M202.90,894.35 H208.90" stroke="#46954a" stroke-width="1.2" fill="none"/>
<path d="M217.10,890.85 V897.85 M214.10,894.35 H220.10" stroke="#46954a" stroke-width="1.2" fill="none"/>
<path d="M230.40,898.55 V905.55 M227.40,902.05 H233.40" stroke="#46954a" stroke-width="1.2" fill="none"/>
<path d="M238.75,906.85 V913.85 M235.75,910.35 H241.75" stroke="#46954a" stroke-width="1.2" fill="none"/>
<path d="M241.30,906.85 V913.85 M238.30,910.35 H244.30" stroke="#46954a" stroke-width="1.2" fill="none"/>
<path d="M246.10,906.85 V913.85 M243.10,910.35 H249.10" stroke="#46954a" stroke-width="1.2" fill="none"/>
<path d="M248.10,906.85 V913.85 M245.10,910.35 H251.10" stroke="#46954a" stroke-width="1.2" fill="none"/>
<path d="M260.50,906.85 V913.85 M257.50,910.35 H263.50" stroke="#46954a" stroke-width="1.2" fill="none"/>
<path d="M273.30,906.85 V913.85 M270.30,910.35 H276.30" stroke="#46954a" stroke-width="1.2" fill="none"/>
<path d="M274.70,906.85 V913.85 M271.70,910.35 H277.70" stroke="#46954a" stroke-width="1.2" fill="none"/>
<path d="M287.90,921.75 V928.75 M284.90,925.25 H290.90" stroke="#46954a" stroke-width="1.2" fill="none"/>
<path d="M290.20,921.75 V928.75 M287.20,925.25 H293.20" stroke="#46954a" stroke-width="1.2" fill="none"/>
<path d="M322.90,940.15 V947.15 M319.90,943.65 H325.90" stroke="#46954a" stroke-width="1.2" fill="none"/>
<path d="M327.30,940.15 V947.15 M324.30,943.65 H330.30" stroke="#46954a" stroke-width="1.2" fill="none"/>
<path d="M379.80,940.15 V947.15 M376.80,943.65 H382.80" stroke="#46954a" stroke-width="1.2" fill="none"/>
<path d="M382.50,940.15 V947.15 M379.50,943.65 H385.50" stroke="#46954a" stroke-width="1.2" fill="none"/>
<path d="M399.20,940.15 V947.15 M396.20,943.65 H402.20" stroke="#46954a" stroke-width="1.2" fill="none"/>
<path d="M406.80,940.15 V947.15 M403.80,943.65 H409.80" stroke="#46954a" stroke-width="1.2" fill="none"/>
<path d="M449.00,940.15 V947.15 M446.00,943.65 H452.00" stroke="#46954a" stroke-width="1.2" fill="none"/>
<path d="M182.10,968.14 V975.14 M179.10,971.64 H185.10" stroke="#bb7530" stroke-width="1.2" fill="none"/>
<path d="M184.00,968.14 V975.14 M181.00,971.64 H187.00" stroke="#bb7530" stroke-width="1.2" fill="none"/>
<path d="M194.20,968.14 V975.14 M191.20,971.64 H197.20" stroke="#bb7530" stroke-width="1.2" fill="none"/>
<path d="M208.10,968.14 V975.14 M205.10,971.64 H211.10" stroke="#bb7530" stroke-width="1.2" fill="none"/>
<path d="M246.50,982.62 V989.62 M243.50,986.12 H249.50" stroke="#bb7530" stroke-width="1.2" fill="none"/>
<path d="M260.80,982.62 V989.62 M257.80,986.12 H263.80" stroke="#bb7530" stroke-width="1.2" fill="none"/>
<path d="M270.30,982.62 V989.62 M267.30,986.12 H273.30" stroke="#bb7530" stroke-width="1.2" fill="none"/>
<path d="M302.60,982.62 V989.62 M299.60,986.12 H305.60" stroke="#bb7530" stroke-width="1.2" fill="none"/>
<path d="M322.80,982.62 V989.62 M319.80,986.12 H325.80" stroke="#bb7530" stroke-width="1.2" fill="none"/>
<path d="M467.70,982.62 V989.62 M464.70,986.12 H470.70" stroke="#bb7530" stroke-width="1.2" fill="none"/>
<text transform="translate(118.60,1041.00)" font-size="11.8" text-anchor="start" font-weight="normal" font-style="italic" fill="#1a1a1a" stroke="#1a1a1a" stroke-width="0.22">P</text>
<text transform="translate(129.30,1041.00) scale(1.350,1)" font-size="11.8" text-anchor="start" font-weight="normal" font-style="normal" fill="#1a1a1a" stroke="#1a1a1a" stroke-width="0.22">=</text>
<text transform="translate(141.60,1041.00) scale(1.060,1)" font-size="11.8" text-anchor="start" font-weight="normal" font-style="normal" fill="#1a1a1a" stroke="#1a1a1a" stroke-width="0.22">.0012</text>
<text transform="translate(97.40,1149.20) scale(1.045,1)" font-size="11.4" text-anchor="start" font-weight="normal" font-style="normal" fill="#1a1a1a" stroke="#1a1a1a" stroke-width="0.22">Number at risk</text>
<line x1="97.50" y1="1159.30" x2="97.50" y2="1189.15" stroke="#111" stroke-width="1.8"/>
<line x1="96.65" y1="1188.30" x2="506.50" y2="1188.30" stroke="#111" stroke-width="1.8"/>
<line x1="91.50" y1="1165.60" x2="97.50" y2="1165.60" stroke="#111" stroke-width="1.5"/>
<text transform="translate(85.90,1169.60) scale(1.120,1)" font-size="11.5" text-anchor="end" font-weight="normal" font-style="normal" fill="#4a9a50" stroke="#4a9a50" stroke-width="0.22">CMR</text>
<text transform="translate(116.30,1169.60) scale(1.200,1)" font-size="11.5" text-anchor="middle" font-weight="normal" font-style="normal" fill="#1a1a1a" stroke="#1a1a1a" stroke-width="0.22">33</text>
<text transform="translate(210.80,1169.60) scale(1.200,1)" font-size="11.5" text-anchor="middle" font-weight="normal" font-style="normal" fill="#1a1a1a" stroke="#1a1a1a" stroke-width="0.22">26</text>
<text transform="translate(305.30,1169.60) scale(1.200,1)" font-size="11.5" text-anchor="middle" font-weight="normal" font-style="normal" fill="#1a1a1a" stroke="#1a1a1a" stroke-width="0.22">7</text>
<text transform="translate(399.80,1169.60) scale(1.200,1)" font-size="11.5" text-anchor="middle" font-weight="normal" font-style="normal" fill="#1a1a1a" stroke="#1a1a1a" stroke-width="0.22">2</text>
<text transform="translate(494.30,1169.60) scale(1.200,1)" font-size="11.5" text-anchor="middle" font-weight="normal" font-style="normal" fill="#1a1a1a" stroke="#1a1a1a" stroke-width="0.22">0</text>
<line x1="91.50" y1="1179.30" x2="97.50" y2="1179.30" stroke="#111" stroke-width="1.5"/>
<text transform="translate(85.90,1183.30) scale(1.100,1)" font-size="11.5" text-anchor="end" font-weight="normal" font-style="normal" fill="#b47236" stroke="#b47236" stroke-width="0.22">no CMR</text>
<text transform="translate(116.30,1183.30) scale(1.200,1)" font-size="11.5" text-anchor="middle" font-weight="normal" font-style="normal" fill="#1a1a1a" stroke="#1a1a1a" stroke-width="0.22">20</text>
<text transform="translate(210.80,1183.30) scale(1.200,1)" font-size="11.5" text-anchor="middle" font-weight="normal" font-style="normal" fill="#1a1a1a" stroke="#1a1a1a" stroke-width="0.22">7</text>
<text transform="translate(305.30,1183.30) scale(1.200,1)" font-size="11.5" text-anchor="middle" font-weight="normal" font-style="normal" fill="#1a1a1a" stroke="#1a1a1a" stroke-width="0.22">2</text>
<text transform="translate(399.80,1183.30) scale(1.200,1)" font-size="11.5" text-anchor="middle" font-weight="normal" font-style="normal" fill="#1a1a1a" stroke="#1a1a1a" stroke-width="0.22">1</text>
<text transform="translate(494.30,1183.30) scale(1.200,1)" font-size="11.5" text-anchor="middle" font-weight="normal" font-style="normal" fill="#1a1a1a" stroke="#1a1a1a" stroke-width="0.22">0</text>
<line x1="116.30" y1="1188.30" x2="116.30" y2="1194.30" stroke="#111" stroke-width="1.5"/>
<text transform="translate(116.30,1211.30) scale(1.150,1)" font-size="11.3" text-anchor="middle" font-weight="normal" font-style="normal" fill="#1a1a1a" stroke="#1a1a1a" stroke-width="0.22">0</text>
<line x1="210.80" y1="1188.30" x2="210.80" y2="1194.30" stroke="#111" stroke-width="1.5"/>
<text transform="translate(210.80,1211.30) scale(1.150,1)" font-size="11.3" text-anchor="middle" font-weight="normal" font-style="normal" fill="#1a1a1a" stroke="#1a1a1a" stroke-width="0.22">10</text>
<line x1="305.30" y1="1188.30" x2="305.30" y2="1194.30" stroke="#111" stroke-width="1.5"/>
<text transform="translate(305.30,1211.30) scale(1.150,1)" font-size="11.3" text-anchor="middle" font-weight="normal" font-style="normal" fill="#1a1a1a" stroke="#1a1a1a" stroke-width="0.22">20</text>
<line x1="399.80" y1="1188.30" x2="399.80" y2="1194.30" stroke="#111" stroke-width="1.5"/>
<text transform="translate(399.80,1211.30) scale(1.150,1)" font-size="11.3" text-anchor="middle" font-weight="normal" font-style="normal" fill="#1a1a1a" stroke="#1a1a1a" stroke-width="0.22">30</text>
<line x1="494.30" y1="1188.30" x2="494.30" y2="1194.30" stroke="#111" stroke-width="1.5"/>
<text transform="translate(494.30,1211.30) scale(1.150,1)" font-size="11.3" text-anchor="middle" font-weight="normal" font-style="normal" fill="#1a1a1a" stroke="#1a1a1a" stroke-width="0.22">40</text>
<text transform="translate(305.10,1234.80) scale(0.672,1)" font-size="16.7" text-anchor="middle" font-weight="normal" font-style="normal" fill="#111" stroke="#111" stroke-width="0.45">Months</text>
<text transform="translate(27.40,1173.95) rotate(-90) scale(0.665,1)" font-size="16.7" text-anchor="middle" font-weight="normal" font-style="normal" fill="#111" stroke="#111" stroke-width="0.45">Legend</text>
</svg>
</div>
</body></html>
